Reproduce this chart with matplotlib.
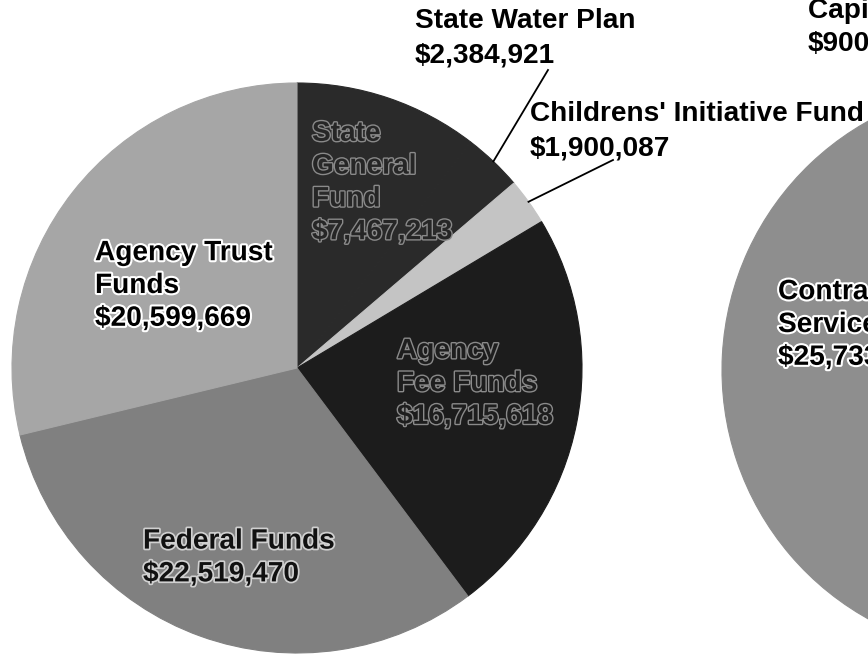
import matplotlib
matplotlib.use("Agg")
import matplotlib.pyplot as plt
import matplotlib.patheffects as pe
import numpy as np

# ---------------- data ----------------
left_names = ["State General Fund", "State Water Plan", "Childrens' Initiative Fund",
              "Agency Fee Funds", "Federal Funds", "Agency Trust Funds"]
left_values = [7467213, 2384921, 1900087, 16715618, 22519470, 20599669]

right_names = ["Capital Outlay", "Contractual Services"]
right_values = [900000, 25733000]

# ---------------- style / layout ----------------
W, H = 868, 656
left_colors = ["#2a2a2a", "#2a2a2a", "#c4c4c4", "#1c1c1c", "#808080", "#a6a6a6"]
right_colors = ["#6a6a6a", "#8e8e8e"]

plt.rcParams['font.family'] = ['Liberation Sans', 'DejaVu Sans']
FS = 20.2

fig = plt.figure(figsize=(W / 100, H / 100), dpi=100)
ax = fig.add_axes([0, 0, 1, 1])

def py(y):
    return H - y

L_C, L_R = (297, py(368)), 285
R_C, R_R = (1007, py(370)), 285

lw, _ = ax.pie(left_values, colors=left_colors, startangle=90, counterclock=False,
               center=L_C, radius=L_R)
rw, _ = ax.pie(right_values, colors=right_colors, startangle=90, counterclock=False,
               center=R_C, radius=R_R)
for w in list(lw) + list(rw):
    w.set_edgecolor(w.get_facecolor())
    w.set_linewidth(0.8)

ax.set_xlim(0, W)
ax.set_ylim(0, H)
ax.set_aspect('equal')
ax.axis('off')

def money(v):
    return f"${v:,}"

halo_white = [pe.withStroke(linewidth=3, foreground="white")]
halo_soft = [pe.withStroke(linewidth=2.5, foreground="#d0d0d0")]
halo_dark = [pe.withStroke(linewidth=2, foreground="#8a8a8a")]

# inside labels: (index, lines, x, y-center, text colour, effects)
inside = [
    (0, ["State", "General", "Fund"], 312, 183, "#262626", halo_dark),
    (3, ["Agency", "Fee Funds"], 397, 384, "#1e1e1e", halo_dark),
    (4, ["Federal Funds"], 143, 558, "#111111", halo_soft),
    (5, ["Agency Trust", "Funds"], 95, 286, "black", halo_white),
]
for idx, lines, x, yc, col, eff in inside:
    txt = "\n".join(lines + [money(left_values[idx])])
    ax.text(x, py(yc), txt, ha="left", va="center", fontsize=FS, fontweight="bold",
            color=col, linespacing=1.34, path_effects=eff)

# outside labels with leader lines
outside = [
    (1, 415, 38, (548, 70)),
    (2, 530, 131, (613, 160)),
]
for idx, x, yc, end in outside:
    txt = f"{left_names[idx]}\n{money(left_values[idx])}"
    ax.text(x, py(yc), txt, ha="left", va="center", fontsize=FS, fontweight="bold",
            color="black", linespacing=1.42)
    w = lw[idx]
    mid = np.deg2rad((w.theta1 + w.theta2) / 2)
    rim = (L_C[0] + L_R * np.cos(mid), L_C[1] + L_R * np.sin(mid))
    ax.plot([rim[0], end[0]], [rim[1], py(end[1])], color="black", lw=1.3)

# right pie labels (cut by the figure edge, as in the reference)
ax.text(808, py(27), f"Capital Outlay\n{money(right_values[0])}", ha="left", va="center",
        fontsize=FS, fontweight="bold", color="black", linespacing=1.32)
ax.text(778, py(325), "Contractual\nServices\n" + money(right_values[1]), ha="left",
        va="center", fontsize=FS, fontweight="bold", color="black", linespacing=1.34,
        path_effects=halo_white)

fig.savefig("out.png", dpi=100)
